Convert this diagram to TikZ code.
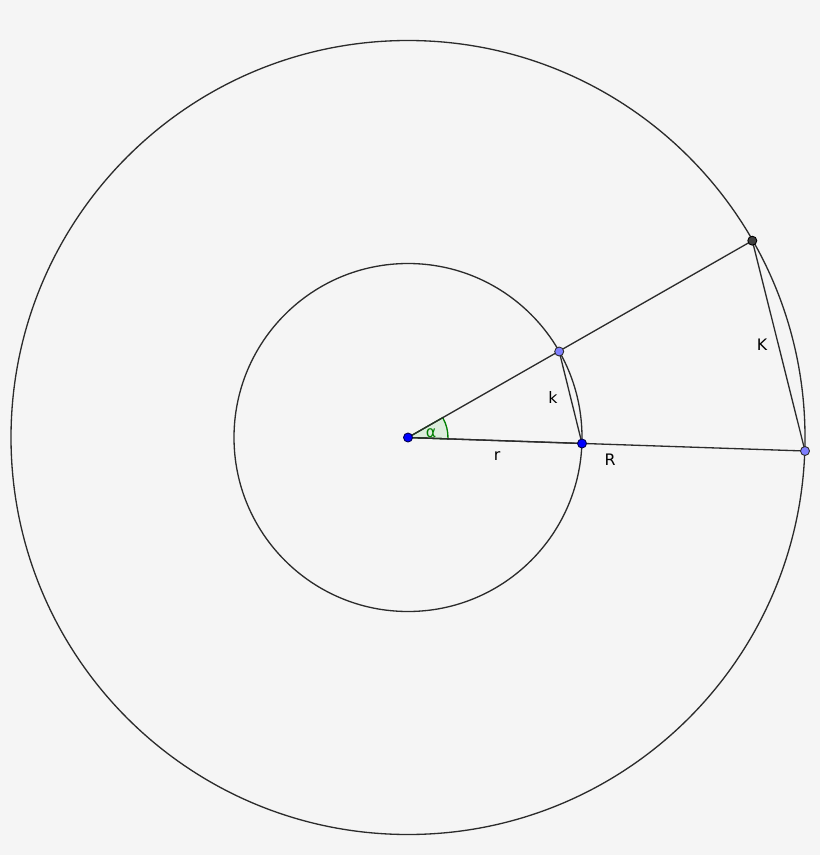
\documentclass[tikz,border=0pt]{standalone}
\usepackage{fontspec}
\setmainfont{DejaVu Sans}
\definecolor{bgcol}{HTML}{F5F5F5}
\definecolor{linecol}{HTML}{2B2B2B}
\definecolor{angcol}{HTML}{007F00}
\definecolor{angfill}{HTML}{DCEDDC}
\definecolor{freept}{HTML}{0000FF}
\definecolor{softpt}{HTML}{7F7FFF}
\definecolor{fixpt}{HTML}{404040}
\tikzset{
  curve/.style={draw=linecol, line width=0.75pt},
  seg/.style={draw=linecol, line width=0.75pt},
  anglearc/.style={draw=angcol, fill=angfill, line width=0.75pt},
  dotblue/.style={fill=freept, draw=black!70!blue, line width=0.5pt},
  dotsoft/.style={fill=softpt, draw=linecol, line width=0.5pt},
  dotdark/.style={fill=fixpt, draw=black, line width=0.5pt},
  lbl/.style={font=\fontsize{9}{10}\selectfont, text=black}
}
\begin{document}
\begin{tikzpicture}[x=0.02cm, y=0.02cm]
    \tikzstyle{every node}+=[inner sep=0pt]
    \fill [bgcol] (0,0) rectangle (820,-855);
    \coordinate (O) at (408,-437.5);
    \coordinate (A) at (559.2,-351.5);
    \coordinate (B) at (582,-443.5);
    \coordinate (C) at (752.3,-240.7);
    \coordinate (D) at (805,-451);
    % circles
    \draw [curve] (O) circle (174);
    \draw [curve] (O) circle (397);
    % angle
    \draw [anglearc] (O) -- ++(-1.95:40) arc (-1.95:29.76:40) -- cycle;
    % segments
    \draw [seg] (O) -- (C);
    \draw [seg] (O) -- (D);
    \draw [seg] (O) -- (B);
    \draw [seg] (A) -- (B);
    \draw [seg] (C) -- (D);
    % labels
    \node [lbl, text=angcol] (alpha) at (431,-433) {α};
    \node [lbl] (r) at (497,-456.5) {r};
    \node [lbl] (R) at (610,-460) {R};
    \node [lbl] (k) at (553,-397) {k};
    \node [lbl] (K) at (762,-345) {K};
    % points
    \draw [dotblue] (O) circle (4.5);
    \draw [dotblue] (B) circle (4.5);
    \draw [dotsoft] (A) circle (4.5);
    \draw [dotsoft] (D) circle (4.5);
    \draw [dotdark] (C) circle (4.5);
\end{tikzpicture}
\end{document}
